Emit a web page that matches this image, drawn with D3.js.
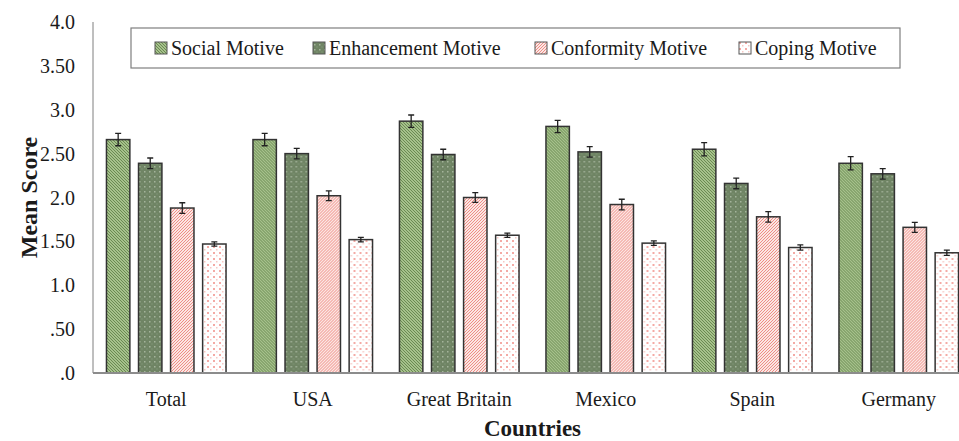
<!DOCTYPE html>
<html>
<head>
<meta charset="utf-8">
<script src="https://cdn.jsdelivr.net/npm/d3@7"></script>
<style>
  body { margin: 0; background: #fff; }
</style>
</head>
<body>
<div id="chart"></div>
<script>
// data
var countries = ["Total", "USA", "Great Britain", "Mexico", "Spain", "Germany"];
var motives = ["Social Motive", "Enhancement Motive", "Conformity Motive", "Coping Motive"];
var social      = [2.66, 2.66, 2.87, 2.81, 2.55, 2.39];
var enhancement = [2.39, 2.50, 2.49, 2.52, 2.16, 2.27];
var conformity  = [1.88, 2.02, 2.00, 1.92, 1.78, 1.66];
var coping      = [1.47, 1.52, 1.57, 1.48, 1.43, 1.37];
var socialErr      = [0.07, 0.07, 0.07, 0.07, 0.075, 0.075];
var enhancementErr = [0.06, 0.06, 0.06, 0.06, 0.06, 0.06];
var conformityErr  = [0.06, 0.055, 0.055, 0.06, 0.06, 0.057];
var copingErr      = [0.025, 0.025, 0.025, 0.025, 0.03, 0.03];
var yTicks = [0, 0.5, 1, 1.5, 2, 2.5, 3, 3.5, 4];
var yTickLabels = [".0", ".50", "1.0", "1.50", "2.0", "2.50", "3.0", "3.50", "4.0"];

var series = [social, enhancement, conformity, coping];
var errors = [socialErr, enhancementErr, conformityErr, copingErr];

var width = 959, height = 441;
var margin = {top: 22, right: -13, bottom: 68, left: 93};
var serif = "'Liberation Serif', 'Times New Roman', Times, serif";

var svg = d3.select("#chart")
  .append("svg")
  .attr("width", width)
  .attr("height", height)
  .attr("font-family", serif);

// patterns for the bar fills
var defs = svg.append("defs");

var p1 = defs.append("pattern").attr("id", "pat0")
  .attr("patternUnits", "userSpaceOnUse").attr("width", 3).attr("height", 3);
p1.append("rect").attr("width", 3).attr("height", 3).attr("fill", "#a6c18c");
p1.append("path").attr("d", "M-1,-1 L4,4 M-1,2 L1,4 M2,-1 L4,1")
  .attr("stroke", "#6a8a52").attr("stroke-width", 1);

var p2 = defs.append("pattern").attr("id", "pat1")
  .attr("patternUnits", "userSpaceOnUse").attr("width", 5).attr("height", 5);
p2.append("rect").attr("width", 5).attr("height", 5).attr("fill", "#6f8464");
p2.append("rect").attr("x", 1).attr("y", 1).attr("width", 1.5).attr("height", 1.5).attr("fill", "#a4b49b");
p2.append("rect").attr("x", 3.5).attr("y", 3.5).attr("width", 1).attr("height", 1).attr("fill", "#8c9f83");

var p3 = defs.append("pattern").attr("id", "pat2")
  .attr("patternUnits", "userSpaceOnUse").attr("width", 3).attr("height", 3);
p3.append("rect").attr("width", 3).attr("height", 3).attr("fill", "#fbe6e3");
p3.append("path").attr("d", "M-1,4 L4,-1 M-1,1 L1,-1 M2,4 L4,2")
  .attr("stroke", "#ee8d86").attr("stroke-width", 1);

var p4 = defs.append("pattern").attr("id", "pat3")
  .attr("patternUnits", "userSpaceOnUse").attr("width", 6).attr("height", 6);
p4.append("rect").attr("width", 6).attr("height", 6).attr("fill", "#ffffff");
p4.append("rect").attr("x", 0).attr("y", 0).attr("width", 2).attr("height", 2).attr("fill", "#f4aaa5");
p4.append("rect").attr("x", 3).attr("y", 3).attr("width", 1.5).attr("height", 1.5).attr("fill", "#f7c8c4");

var x0 = d3.scaleBand()
  .domain(countries)
  .range([margin.left, width - margin.right])
  .paddingInner(0)
  .paddingOuter(0);

var x1 = d3.scaleBand()
  .domain(d3.range(motives.length))
  .range([0, x0.bandwidth()])
  .paddingInner(0.27)
  .paddingOuter(0.42);

var y = d3.scaleLinear()
  .domain([0, 4])
  .range([height - margin.bottom, margin.top]);

// y axis line
svg.append("line")
  .attr("x1", margin.left).attr("x2", margin.left)
  .attr("y1", y(4)).attr("y2", y(0))
  .attr("stroke", "#7f7f7f").attr("stroke-width", 1);

// y tick labels
svg.append("g").selectAll("text")
  .data(yTicks)
  .enter().append("text")
  .attr("x", 75)
  .attr("y", function(d) { return y(d); })
  .attr("dy", "0.35em")
  .attr("text-anchor", "end")
  .attr("font-size", 20)
  .attr("fill", "#1a1a1a")
  .text(function(d, i) { return yTickLabels[i]; });

// bars
var groups = svg.append("g").selectAll("g")
  .data(countries)
  .enter().append("g")
  .attr("transform", function(d) { return "translate(" + x0(d) + ",0)"; });

groups.selectAll("rect")
  .data(function(d, i) { return series.map(function(s, k) { return {k: k, v: s[i], e: errors[k][i]}; }); })
  .enter().append("rect")
  .attr("x", function(d) { return x1(d.k); })
  .attr("y", function(d) { return y(d.v); })
  .attr("width", x1.bandwidth())
  .attr("height", function(d) { return y(0) - y(d.v); })
  .attr("fill", function(d) { return "url(#pat" + d.k + ")"; })
  .attr("stroke", "#333")
  .attr("stroke-width", 1.5);

// error bars
var eb = groups.selectAll("g.err")
  .data(function(d, i) { return series.map(function(s, k) { return {k: k, v: s[i], e: errors[k][i]}; }); })
  .enter().append("g").attr("class", "err");

eb.append("path")
  .attr("d", function(d) {
    var cx = x1(d.k) + x1.bandwidth() / 2;
    var t = y(d.v + d.e), b = y(d.v - d.e);
    return "M" + cx + "," + t + "V" + b +
      "M" + (cx - 3) + "," + t + "H" + (cx + 3) +
      "M" + (cx - 3) + "," + b + "H" + (cx + 3);
  })
  .attr("stroke", "#222")
  .attr("stroke-width", 1.3)
  .attr("fill", "none");

// x axis baseline
svg.append("line")
  .attr("x1", margin.left).attr("x2", width)
  .attr("y1", y(0)).attr("y2", y(0))
  .attr("stroke", "#8c8c8c").attr("stroke-width", 2);

// country labels
svg.append("g").selectAll("text")
  .data(countries)
  .enter().append("text")
  .attr("x", function(d) { return x0(d) + x0.bandwidth() / 2; })
  .attr("y", 406)
  .attr("text-anchor", "middle")
  .attr("font-size", 20)
  .attr("fill", "#1a1a1a")
  .text(function(d) { return d; });

// axis titles
svg.append("text")
  .attr("x", (margin.left + width - margin.right) / 2)
  .attr("y", 436)
  .attr("text-anchor", "middle")
  .attr("font-size", 23)
  .attr("font-weight", "bold")
  .attr("fill", "#1a1a1a")
  .text("Countries");

svg.append("text")
  .attr("transform", "translate(29," + y(2) + ") rotate(-90)")
  .attr("text-anchor", "middle")
  .attr("dy", "0.35em")
  .attr("font-size", 24)
  .attr("font-weight", "bold")
  .attr("fill", "#1a1a1a")
  .text("Mean Score");

// legend
var legend = svg.append("g");
legend.append("rect")
  .attr("x", 131).attr("y", 28)
  .attr("width", 769).attr("height", 40)
  .attr("fill", "#fff")
  .attr("stroke", "#7f7f7f")
  .attr("stroke-width", 1.2);

var legendX = [155, 313, 535, 739];
var li = legend.selectAll("g.item")
  .data(motives)
  .enter().append("g").attr("class", "item")
  .attr("transform", function(d, i) { return "translate(" + legendX[i] + ",48)"; });

li.append("rect")
  .attr("x", 0).attr("y", -6)
  .attr("width", 12).attr("height", 12)
  .attr("fill", function(d, i) { return "url(#pat" + i + ")"; })
  .attr("stroke", "#555")
  .attr("stroke-width", 1);

li.append("text")
  .attr("x", 16)
  .attr("dy", "0.35em")
  .attr("font-size", 20)
  .attr("fill", "#1a1a1a")
  .text(function(d) { return d; });
</script>
</body>
</html>
